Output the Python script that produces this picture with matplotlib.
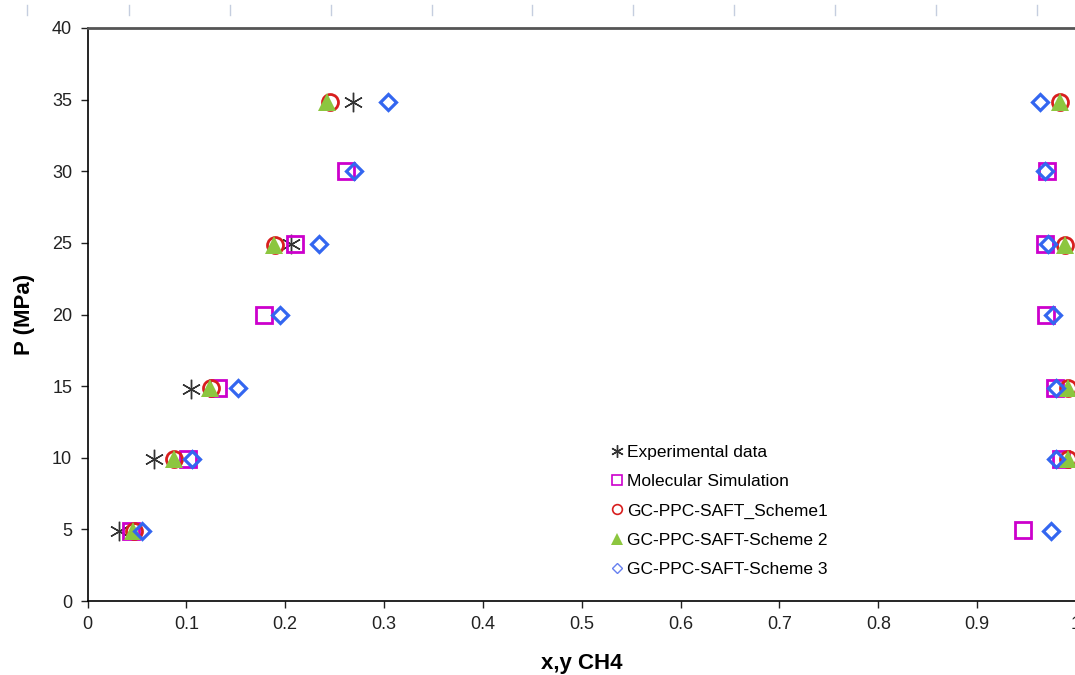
import matplotlib
matplotlib.use('Agg')
import matplotlib.pyplot as plt
from matplotlib.lines import Line2D

plt.rcParams['font.family'] = ['Liberation Sans', 'DejaVu Sans']

# experimental data (liquid side)
exp_x = [0.032, 0.067, 0.105, 0.206, 0.269]
exp_p = [4.9, 9.9, 14.8, 24.9, 34.8]

# molecular simulation
ms_x = [0.044, 0.102, 0.132, 0.179, 0.210, 0.262,
        0.946, 0.985, 0.979, 0.970, 0.969, 0.971]
ms_p = [4.9, 9.9, 14.85, 20.0, 24.9, 30.0,
        4.95, 9.9, 14.85, 20.0, 24.9, 30.0]

# GC-PPC-SAFT scheme 1
s1_x = [0.047, 0.088, 0.125, 0.190, 0.245, 0.992, 0.992, 0.989, 0.984]
s1_p = [4.9, 9.9, 14.85, 24.85, 34.8, 9.9, 14.85, 24.85, 34.8]

# GC-PPC-SAFT scheme 2
s2_x = [0.046, 0.088, 0.124, 0.189, 0.242, 0.992, 0.992, 0.989, 0.984]
s2_p = [4.9, 9.9, 14.85, 24.85, 34.8, 9.9, 14.85, 24.85, 34.8]

# GC-PPC-SAFT scheme 3
s3_x = [0.055, 0.106, 0.152, 0.195, 0.234, 0.270, 0.304,
        0.975, 0.980, 0.980, 0.977, 0.972, 0.969, 0.964]
s3_p = [4.9, 9.9, 14.85, 20.0, 24.9, 30.0, 34.8,
        4.9, 9.9, 14.85, 20.0, 24.9, 30.0, 34.8]

xticks = [0, 0.1, 0.2, 0.3, 0.4, 0.5, 0.6, 0.7, 0.8, 0.9, 1]
xticklabels = ['0', '0.1', '0.2', '0.3', '0.4', '0.5', '0.6', '0.7', '0.8', '0.9', '1']
yticks = [0, 5, 10, 15, 20, 25, 30, 35, 40]

magenta = '#CC00CC'
red = '#D81E1E'
green = '#8CC63F'
blue = '#3366F0'

fig = plt.figure(figsize=(10.75, 6.75), dpi=100)
ax = fig.add_axes([87.5/1075, 74/675, 988.5/1075, 573/675])

ax.plot(exp_x, exp_p, ls='none', marker=(6, 2, 0), ms=14, mew=1, color='#333333')
ax.plot(ms_x, ms_p, ls='none', marker='s', ms=11, mew=2, mfc='none', mec=magenta)
ax.plot(s1_x, s1_p, ls='none', marker='o', ms=11.5, mew=2, mfc='none', mec=red)
ax.plot(s2_x, s2_p, ls='none', marker='^', ms=12.5, mew=0, color=green)
ax.plot(s3_x, s3_p, ls='none', marker='D', ms=8.5, mew=2.3, mfc='none', mec=blue)

ax.set_xlim(0, 1)
ax.set_ylim(0, 40)
ax.set_xticks(xticks)
ax.set_xticklabels(xticklabels)
ax.set_yticks(yticks)
ax.tick_params(labelsize=13, length=5, width=1, colors='#222222', pad=6)
ax.spines['right'].set_visible(False)
ax.spines['top'].set_color('#555555')
ax.spines['top'].set_linewidth(2)
ax.spines['left'].set_linewidth(1.2)
ax.spines['bottom'].set_linewidth(1.2)

ax.set_xlabel('x,y CH4', fontsize=16, fontweight='bold', labelpad=14)
ax.set_ylabel('P (MPa)', fontsize=16, fontweight='bold', labelpad=12)

handles = [
    Line2D([], [], ls='none', marker=(6, 2, 0), ms=9, mew=1, color='#333333'),
    Line2D([], [], ls='none', marker='s', ms=7, mew=1.2, mfc='none', mec=magenta),
    Line2D([], [], ls='none', marker='o', ms=7, mew=1.2, mfc='none', mec=red),
    Line2D([], [], ls='none', marker='^', ms=8.5, mew=0, color=green),
    Line2D([], [], ls='none', marker='D', ms=5.5, mew=1, mfc='none', mec='#6680F0'),
]
labels = ['Experimental data', 'Molecular Simulation', 'GC-PPC-SAFT_Scheme1',
          'GC-PPC-SAFT-Scheme 2', 'GC-PPC-SAFT-Scheme 3']
ax.legend(handles, labels, loc='upper left', bbox_to_anchor=(0.530, 0.273),
          frameon=False, fontsize=12.5, handlelength=0.6, handletextpad=0.3,
          labelspacing=0.82, borderpad=0, borderaxespad=0)

# faint tick marks along the top edge of the image
for px in [27, 129, 230, 331, 432, 532, 633, 734, 835, 936, 1037]:
    fig.add_artist(Line2D([px/1075, px/1075], [1 - 5/675, 1 - 15/675],
                          color='#C5CEDF', lw=1))

fig.savefig('out.png', dpi=100)
